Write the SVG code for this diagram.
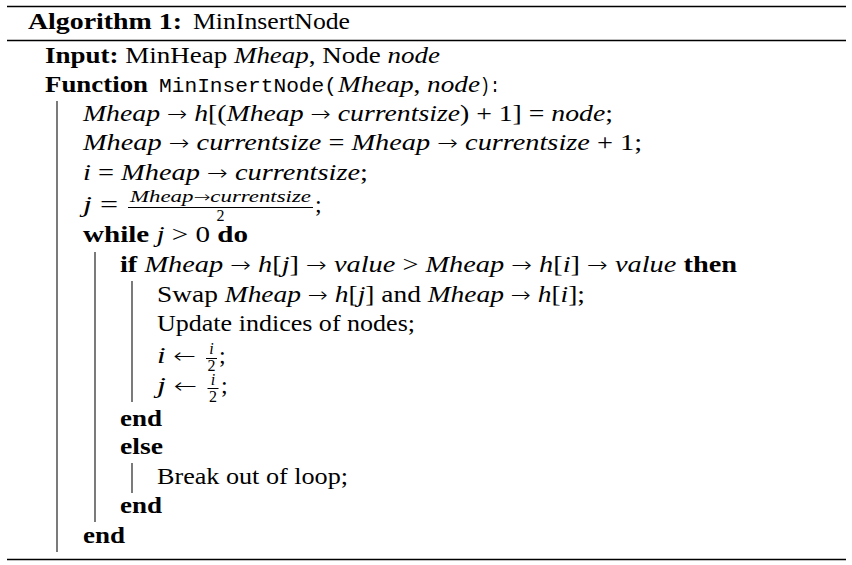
<svg xmlns="http://www.w3.org/2000/svg" width="852" height="565" viewBox="0 0 852 565">
<style>
.t{font-family:"Liberation Serif","Times New Roman",serif;font-size:24px;fill:#000}
.b{font-weight:bold}
.i{font-style:italic}
.ar{font-family:"DejaVu Sans",sans-serif;font-style:normal;font-weight:200;font-size:21px}
.m{font-family:"Liberation Mono","Courier New",monospace;font-size:21px;fill:#000}
.s{font-size:17px}
.f{font-size:16px}
.s .ar{font-size:15px}
.rule{stroke:#000;stroke-width:1.6}
.bar{stroke:#222;stroke-width:1.2}
.fb{stroke:#000;stroke-width:1}
</style>
<rect width="852" height="565" fill="#fff"/>
<g id="rules">
<line class="rule" x1="7" y1="6.5" x2="846" y2="6.5"/>
<line class="rule" x1="7" y1="40.5" x2="846" y2="40.5" style="stroke-width:1.3"/>
<line class="rule" x1="7" y1="559.5" x2="846" y2="559.5"/>
</g>
<g id="block-bars">
<line class="bar" x1="57" y1="101" x2="57" y2="552"/>
<line class="bar" x1="95" y1="252" x2="95" y2="522"/>
<line class="bar" x1="132" y1="281" x2="132" y2="402"/>
<line class="bar" x1="132" y1="463" x2="132" y2="493"/>
</g>
<g id="title">
<text class="t b" x="28" y="29" textLength="154" lengthAdjust="spacingAndGlyphs">Algorithm 1:</text>
<text class="t" x="193" y="29" textLength="157" lengthAdjust="spacingAndGlyphs">MinInsertNode</text>
</g>
<g id="input">
<text class="t" x="45" y="63" textLength="395" lengthAdjust="spacingAndGlyphs"><tspan class="b">Input:</tspan> MinHeap <tspan class="i">Mheap</tspan>, Node <tspan class="i">node</tspan></text>
</g>
<g id="function">
<text class="t b" x="45" y="92" textLength="103" lengthAdjust="spacingAndGlyphs">Function</text>
<text class="m" x="159" y="92" textLength="178" lengthAdjust="spacingAndGlyphs">MinInsertNode(</text>
<text class="t" x="338" y="92" textLength="142" lengthAdjust="spacingAndGlyphs"><tspan class="i">Mheap</tspan>, <tspan class="i">node</tspan></text>
<text class="m" x="480" y="92" textLength="20" lengthAdjust="spacingAndGlyphs">):</text>
</g>
<g id="line1">
<text class="t" x="83" y="121" textLength="530" lengthAdjust="spacingAndGlyphs"><tspan class="i">Mheap</tspan> <tspan class="ar">→</tspan> <tspan class="i">h</tspan>[(<tspan class="i">Mheap</tspan> <tspan class="ar">→</tspan> <tspan class="i">currentsize</tspan>) + 1] = <tspan class="i">node</tspan>;</text>
</g>
<g id="line2">
<text class="t" x="83" y="150" textLength="559" lengthAdjust="spacingAndGlyphs"><tspan class="i">Mheap</tspan> <tspan class="ar">→</tspan> <tspan class="i">currentsize</tspan> = <tspan class="i">Mheap</tspan> <tspan class="ar">→</tspan> <tspan class="i">currentsize</tspan> + 1;</text>
</g>
<g id="line3">
<text class="t" x="83" y="180" textLength="285" lengthAdjust="spacingAndGlyphs"><tspan class="i">i</tspan> = <tspan class="i">Mheap</tspan> <tspan class="ar">→</tspan> <tspan class="i">currentsize</tspan>;</text>
</g>
<g id="line4">
<text class="t" x="83" y="212" textLength="35" lengthAdjust="spacingAndGlyphs"><tspan class="i">j</tspan> =</text>
<text class="t s i" x="130" y="202" textLength="181" lengthAdjust="spacingAndGlyphs">Mheap<tspan class="ar">→</tspan>currentsize</text>
<line class="fb" x1="128" y1="207.5" x2="313" y2="207.5"/>
<text class="t f" x="220.5" y="221" text-anchor="middle">2</text>
<text class="t" x="315" y="212">;</text>
</g>
<g id="while">
<text class="t" x="83" y="242" textLength="165" lengthAdjust="spacingAndGlyphs"><tspan class="b">while</tspan> <tspan class="i">j</tspan> &gt; 0 <tspan class="b">do</tspan></text>
</g>
<g id="if">
<text class="t" x="120" y="272" textLength="617" lengthAdjust="spacingAndGlyphs"><tspan class="b">if</tspan> <tspan class="i">Mheap</tspan> <tspan class="ar">→</tspan> <tspan class="i">h</tspan>[<tspan class="i">j</tspan>] <tspan class="ar">→</tspan> <tspan class="i">value</tspan> &gt; <tspan class="i">Mheap</tspan> <tspan class="ar">→</tspan> <tspan class="i">h</tspan>[<tspan class="i">i</tspan>] <tspan class="ar">→</tspan> <tspan class="i">value</tspan> <tspan class="b">then</tspan></text>
</g>
<g id="swap">
<text class="t" x="157" y="302" textLength="428" lengthAdjust="spacingAndGlyphs">Swap <tspan class="i">Mheap</tspan> <tspan class="ar">→</tspan> <tspan class="i">h</tspan>[<tspan class="i">j</tspan>] and <tspan class="i">Mheap</tspan> <tspan class="ar">→</tspan> <tspan class="i">h</tspan>[<tspan class="i">i</tspan>];</text>
</g>
<g id="update">
<text class="t" x="157" y="331" textLength="258" lengthAdjust="spacingAndGlyphs">Update indices of nodes;</text>
</g>
<g id="assign-i">
<text class="t" x="157" y="363" textLength="39" lengthAdjust="spacingAndGlyphs"><tspan class="i">i</tspan> <tspan class="ar">←</tspan></text>
<text class="t f i" x="211.5" y="354" text-anchor="middle">i</text>
<line class="fb" x1="206" y1="358.5" x2="217" y2="358.5"/>
<text class="t f" x="211.5" y="371" text-anchor="middle">2</text>
<text class="t" x="219" y="363">;</text>
</g>
<g id="assign-j">
<text class="t" x="157" y="393" textLength="40" lengthAdjust="spacingAndGlyphs"><tspan class="i">j</tspan> <tspan class="ar">←</tspan></text>
<text class="t f i" x="213" y="385" text-anchor="middle">i</text>
<line class="fb" x1="207.5" y1="388.5" x2="218.5" y2="388.5"/>
<text class="t f" x="213" y="402" text-anchor="middle">2</text>
<text class="t" x="221" y="393">;</text>
</g>
<g id="end-if">
<text class="t b" x="120" y="426" textLength="42" lengthAdjust="spacingAndGlyphs">end</text>
</g>
<g id="else">
<text class="t b" x="120" y="454" textLength="43" lengthAdjust="spacingAndGlyphs">else</text>
</g>
<g id="break">
<text class="t" x="157" y="484" textLength="191" lengthAdjust="spacingAndGlyphs">Break out of loop;</text>
</g>
<g id="end-else">
<text class="t b" x="120" y="513" textLength="42" lengthAdjust="spacingAndGlyphs">end</text>
</g>
<g id="end-while">
<text class="t b" x="83" y="543" textLength="42" lengthAdjust="spacingAndGlyphs">end</text>
</g>
</svg>
